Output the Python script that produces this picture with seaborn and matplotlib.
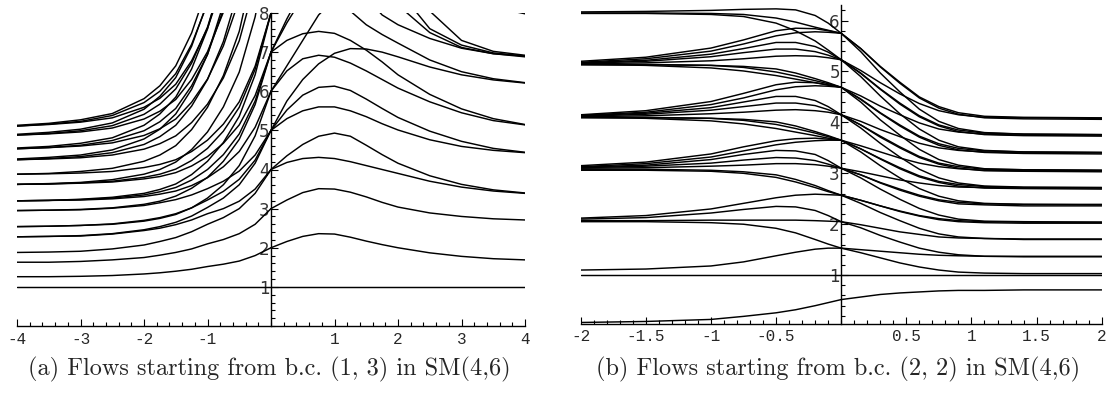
import matplotlib
matplotlib.use("Agg")
import matplotlib.pyplot as plt
import seaborn as sns
import pandas as pd
from matplotlib.ticker import MultipleLocator

# ---------------- panel (a) data ----------------
a_left_x = [-4, -3.5, -3, -2.5, -2, -1.75, -1.5, -1.25, -1, -0.75, -0.5, -0.25, 0]
a_left_curves = [
    [1.26, 1.26, 1.27, 1.29, 1.33, 1.36, 1.40, 1.45, 1.52, 1.58, 1.66, 1.80, 2.00],
    [1.63, 1.63, 1.65, 1.69, 1.75, 1.81, 1.88, 1.97, 2.10, 2.21, 2.36, 2.60, 3.00],
    [1.88, 1.89, 1.91, 1.97, 2.07, 2.16, 2.26, 2.41, 2.60, 2.77, 3.00, 3.39, 4.00],
    [2.28, 2.29, 2.30, 2.35, 2.44, 2.50, 2.59, 2.71, 2.87, 3.00, 3.19, 3.50, 4.00],
    [2.28, 2.29, 2.31, 2.36, 2.46, 2.54, 2.65, 2.81, 3.03, 3.27, 3.61, 4.16, 5.00],
    [2.54, 2.55, 2.57, 2.61, 2.70, 2.77, 2.87, 3.02, 3.22, 3.44, 3.75, 4.24, 5.00],
    [2.54, 2.55, 2.57, 2.60, 2.68, 2.75, 2.85, 3.02, 3.27, 3.61, 4.10, 4.86, 6.00],
    [2.95, 2.96, 2.97, 3.01, 3.08, 3.15, 3.23, 3.35, 3.51, 3.70, 3.96, 4.37, 5.00],
    [2.95, 2.96, 2.98, 3.02, 3.11, 3.19, 3.32, 3.52, 3.80, 4.21, 4.77, 5.66, 7.00],
    [3.20, 3.21, 3.22, 3.25, 3.31, 3.37, 3.45, 3.59, 3.79, 4.07, 4.46, 5.08, 6.00],
    [3.20, 3.21, 3.23, 3.27, 3.35, 3.43, 3.54, 3.73, 4.00, 4.38, 4.91, 5.75, 7.00],
    [3.20, 3.21, 3.24, 3.29, 3.39, 3.49, 3.63, 3.87, 4.21, 4.69, 5.36, 6.42, 8.00],
    [3.62, 3.63, 3.65, 3.68, 3.76, 3.82, 3.92, 4.09, 4.33, 4.67, 5.14, 5.89, 7.00],
    [3.62, 3.63, 3.66, 3.70, 3.80, 3.88, 4.01, 4.23, 4.54, 4.98, 5.59, 6.56, 8.00],
    [3.62, 3.64, 3.67, 3.74, 3.88, 4.00, 4.19, 4.51, 4.96, 5.60, 6.49, 7.90, 10.0],
    [3.88, 3.89, 3.91, 3.95, 4.05, 4.13, 4.25, 4.46, 4.75, 5.16, 5.73, 6.64, 8.00],
    [3.88, 3.90, 3.95, 4.03, 4.21, 4.37, 4.61, 5.02, 5.59, 6.40, 7.53, 9.32, 12.0],
    [4.25, 4.27, 4.30, 4.37, 4.52, 4.66, 4.86, 5.20, 5.67, 6.34, 7.29, 8.77, 11.0],
    [4.25, 4.28, 4.33, 4.43, 4.64, 4.84, 5.13, 5.62, 6.30, 7.27, 8.64, 10.8, 14.0],
    [4.27, 4.31, 4.37, 4.50, 4.78, 5.03, 5.42, 6.05, 6.94, 8.22, 10.0, 12.8, 17.0],
    [4.53, 4.56, 4.60, 4.68, 4.87, 5.04, 5.29, 5.72, 6.31, 7.16, 8.34, 10.2, 13.0],
    [4.53, 4.56, 4.62, 4.74, 4.99, 5.22, 5.56, 6.14, 6.94, 8.09, 9.69, 12.2, 16.0],
    [4.55, 4.59, 4.67, 4.81, 5.13, 5.42, 5.85, 6.57, 7.59, 9.03, 11.1, 14.2, 19.0],
    [4.88, 4.91, 4.96, 5.06, 5.29, 5.49, 5.79, 6.30, 7.01, 8.02, 9.43, 11.7, 15.0],
    [4.88, 4.92, 4.99, 5.12, 5.41, 5.67, 6.06, 6.72, 7.64, 8.95, 10.8, 13.7, 18.0],
    [4.90, 4.95, 5.03, 5.19, 5.54, 5.87, 6.35, 7.15, 8.28, 9.90, 12.1, 15.7, 21.0],
    [5.11, 5.15, 5.21, 5.32, 5.59, 5.82, 6.18, 6.78, 7.61, 8.80, 10.5, 13.1, 17.0],
    [5.11, 5.16, 5.23, 5.38, 5.71, 6.00, 6.45, 7.20, 8.24, 9.70, 11.8, 15.1, 20.0],
    [5.13, 5.18, 5.27, 5.43, 5.81, 6.14, 6.65, 7.49, 8.67, 10.4, 12.7, 16.4, 22.0],
]
a_right_x = [0, 0.25, 0.5, 0.75, 1.0, 1.25, 1.5, 1.75, 2.0, 2.5, 3.0, 3.5, 4.0]
a_right_curves = [
    [2.00, 2.16, 2.29, 2.36, 2.35, 2.27, 2.17, 2.08, 2.00, 1.87, 1.78, 1.72, 1.69],
    [3.00, 3.22, 3.41, 3.51, 3.50, 3.42, 3.30, 3.16, 3.04, 2.89, 2.80, 2.74, 2.71],
    [4.00, 4.18, 4.28, 4.31, 4.28, 4.20, 4.10, 4.00, 3.90, 3.70, 3.55, 3.45, 3.39],
    [4.00, 4.35, 4.64, 4.85, 4.93, 4.85, 4.62, 4.38, 4.16, 3.84, 3.62, 3.48, 3.40],
    [5.00, 5.30, 5.50, 5.60, 5.60, 5.50, 5.35, 5.17, 5.01, 4.76, 4.59, 4.49, 4.43],
    [5.00, 5.52, 5.90, 6.10, 6.13, 6.02, 5.80, 5.56, 5.33, 4.98, 4.72, 4.54, 4.44],
    [5.00, 5.75, 6.30, 6.70, 6.97, 7.09, 7.08, 7.00, 6.88, 6.62, 6.42, 6.29, 6.21],
    [6.00, 6.52, 6.83, 6.92, 6.87, 6.72, 6.52, 6.30, 6.08, 5.73, 5.45, 5.25, 5.14],
    [7.00, 7.30, 7.47, 7.53, 7.48, 7.30, 7.05, 6.75, 6.42, 5.92, 5.55, 5.30, 5.15],
    [6.00, 6.65, 7.30, 7.95, 8.35, 8.05, 7.70, 7.45, 7.23, 6.80, 6.50, 6.32, 6.22],
    [7.00, 7.75, 8.40, 8.90, 9.00, 8.80, 8.40, 7.95, 7.70, 7.35, 7.10, 6.96, 6.90],
    [7.00, 7.85, 8.60, 9.20, 9.50, 9.45, 9.20, 8.80, 8.20, 7.50, 7.12, 6.96, 6.88],
    [8.00, 8.90, 9.60, 10.0, 10.1, 9.90, 9.60, 9.20, 8.60, 7.60, 7.18, 6.98, 6.90],
    [8.00, 9.00, 9.80, 10.3, 10.5, 10.4, 10.1, 9.60, 9.00, 8.05, 7.30, 7.02, 6.92],
    [8.00, 9.50, 10.5, 11.0, 11.0, 10.8, 10.4, 10.0, 9.60, 8.90, 8.40, 8.15, 7.98],
]
a_const_x = [-4, 4]
a_const_y = [1.0, 1.0]

# ---------------- panel (b) data ----------------
b_left_x = [-2, -1.5, -1, -0.75, -0.5, -0.35, -0.2, -0.1, 0]
b_left_curves = [
    [6.17, 6.18, 6.20, 6.22, 6.23, 6.21, 6.10, 5.95, 5.75],
    [6.15, 6.15, 6.14, 6.12, 6.05, 5.97, 5.87, 5.81, 5.75],
    [6.14, 6.14, 6.12, 6.08, 5.95, 5.80, 5.60, 5.42, 5.23],
    [5.20, 5.28, 5.46, 5.62, 5.80, 5.85, 5.84, 5.80, 5.75],
    [5.18, 5.25, 5.40, 5.54, 5.70, 5.76, 5.78, 5.77, 5.75],
    [5.17, 5.22, 5.34, 5.45, 5.57, 5.57, 5.49, 5.38, 5.23],
    [5.16, 5.20, 5.29, 5.37, 5.44, 5.44, 5.39, 5.32, 5.23],
    [5.15, 5.17, 5.21, 5.25, 5.30, 5.31, 5.30, 5.27, 5.23],
    [5.14, 5.14, 5.12, 5.10, 5.05, 4.97, 4.86, 4.78, 4.69],
    [5.13, 5.13, 5.12, 5.08, 4.99, 4.91, 4.82, 4.76, 4.69],
    [5.14, 5.12, 5.07, 5.01, 4.92, 4.85, 4.78, 4.73, 4.69],
    [4.15, 4.23, 4.41, 4.57, 4.74, 4.79, 4.78, 4.74, 4.69],
    [4.14, 4.20, 4.35, 4.48, 4.64, 4.70, 4.72, 4.71, 4.69],
    [4.13, 4.18, 4.29, 4.40, 4.51, 4.51, 4.43, 4.31, 4.15],
    [4.12, 4.16, 4.24, 4.31, 4.38, 4.38, 4.33, 4.25, 4.15],
    [4.11, 4.13, 4.17, 4.20, 4.24, 4.25, 4.23, 4.20, 4.15],
    [4.10, 4.10, 4.08, 4.06, 4.01, 3.93, 3.82, 3.74, 3.65],
    [4.09, 4.09, 4.08, 4.04, 3.96, 3.88, 3.79, 3.72, 3.65],
    [4.10, 4.08, 4.03, 3.97, 3.88, 3.81, 3.74, 3.69, 3.65],
    [3.15, 3.22, 3.38, 3.52, 3.64, 3.68, 3.69, 3.67, 3.65],
    [3.13, 3.19, 3.32, 3.44, 3.56, 3.61, 3.64, 3.65, 3.65],
    [3.12, 3.16, 3.27, 3.37, 3.45, 3.44, 3.37, 3.25, 3.10],
    [3.11, 3.14, 3.20, 3.26, 3.31, 3.30, 3.25, 3.18, 3.10],
    [3.10, 3.11, 3.14, 3.16, 3.19, 3.19, 3.17, 3.14, 3.10],
    [3.08, 3.08, 3.06, 3.03, 2.97, 2.88, 2.76, 2.66, 2.57],
    [3.06, 3.06, 3.04, 3.00, 2.92, 2.83, 2.72, 2.64, 2.57],
    [2.12, 2.17, 2.30, 2.41, 2.52, 2.57, 2.59, 2.58, 2.57],
    [2.10, 2.13, 2.22, 2.29, 2.35, 2.34, 2.27, 2.17, 2.05],
    [2.07, 2.07, 2.08, 2.08, 2.08, 2.08, 2.07, 2.06, 2.05],
    [2.05, 2.05, 2.03, 2.00, 1.92, 1.83, 1.70, 1.61, 1.53],
    [1.10, 1.12, 1.18, 1.26, 1.38, 1.45, 1.51, 1.53, 1.53],
    [0.07, 0.09, 0.13, 0.19, 0.26, 0.32, 0.40, 0.46, 0.52],
]
b_right_x = [0, 0.15, 0.3, 0.45, 0.6, 0.75, 0.9, 1.1, 1.4, 2.0]
b_right_curves = [
    [5.75, 5.45, 5.10, 4.79, 4.50, 4.31, 4.19, 4.12, 4.10, 4.09],
    [5.75, 5.45, 5.09, 4.77, 4.48, 4.28, 4.16, 4.09, 4.07, 4.06],
    [5.75, 5.39, 4.97, 4.60, 4.26, 4.02, 3.88, 3.80, 3.77, 3.76],
    [5.23, 5.02, 4.78, 4.56, 4.37, 4.23, 4.15, 4.10, 4.09, 4.08],
    [5.23, 4.97, 4.66, 4.38, 4.13, 3.95, 3.85, 3.79, 3.77, 3.76],
    [5.23, 4.96, 4.65, 4.36, 4.11, 3.93, 3.82, 3.76, 3.74, 3.73],
    [5.23, 4.90, 4.52, 4.17, 3.87, 3.65, 3.52, 3.45, 3.42, 3.41],
    [4.69, 4.52, 4.32, 4.15, 3.99, 3.87, 3.81, 3.77, 3.75, 3.75],
    [4.69, 4.46, 4.19, 3.95, 3.73, 3.58, 3.49, 3.44, 3.42, 3.41],
    [4.69, 4.45, 4.18, 3.93, 3.71, 3.55, 3.46, 3.41, 3.39, 3.38],
    [4.69, 4.40, 4.05, 3.75, 3.47, 3.27, 3.16, 3.09, 3.07, 3.06],
    [4.15, 4.02, 3.86, 3.72, 3.59, 3.50, 3.45, 3.42, 3.40, 3.40],
    [4.15, 3.95, 3.73, 3.52, 3.33, 3.20, 3.13, 3.08, 3.07, 3.06],
    [4.15, 3.95, 3.71, 3.50, 3.31, 3.18, 3.10, 3.05, 3.04, 3.03],
    [4.15, 3.89, 3.59, 3.32, 3.08, 2.91, 2.81, 2.75, 2.73, 2.72],
    [3.65, 3.54, 3.42, 3.30, 3.20, 3.13, 3.09, 3.06, 3.05, 3.05],
    [3.65, 3.48, 3.29, 3.11, 2.95, 2.84, 2.78, 2.74, 2.72, 2.72],
    [3.65, 3.48, 3.28, 3.09, 2.93, 2.82, 2.75, 2.71, 2.70, 2.69],
    [3.65, 3.42, 3.15, 2.91, 2.70, 2.55, 2.46, 2.41, 2.39, 2.38],
    [3.10, 3.03, 2.95, 2.87, 2.81, 2.76, 2.73, 2.72, 2.71, 2.71],
    [3.10, 2.97, 2.82, 2.69, 2.57, 2.48, 2.43, 2.40, 2.39, 2.39],
    [3.10, 2.97, 2.81, 2.67, 2.55, 2.46, 2.40, 2.38, 2.36, 2.36],
    [3.10, 2.91, 2.69, 2.49, 2.31, 2.18, 2.10, 2.06, 2.05, 2.04],
    [2.57, 2.47, 2.36, 2.26, 2.17, 2.11, 2.07, 2.05, 2.04, 2.04],
    [2.57, 2.47, 2.36, 2.25, 2.16, 2.09, 2.05, 2.03, 2.02, 2.02],
    [2.57, 2.41, 2.23, 2.07, 1.92, 1.81, 1.75, 1.72, 1.70, 1.70],
    [2.05, 1.99, 1.92, 1.85, 1.80, 1.75, 1.73, 1.72, 1.71, 1.71],
    [2.05, 1.93, 1.78, 1.65, 1.53, 1.45, 1.40, 1.37, 1.36, 1.36],
    [1.53, 1.50, 1.47, 1.44, 1.41, 1.39, 1.38, 1.37, 1.37, 1.37],
    [1.53, 1.44, 1.34, 1.24, 1.16, 1.10, 1.06, 1.04, 1.03, 1.03],
    [0.52, 0.57, 0.62, 0.65, 0.67, 0.69, 0.70, 0.70, 0.71, 0.71],
]
b_const_x = [-2, 2]
b_const_y = [1.0, 1.0]

# ---------------- ticks / captions ----------------
a_xticks = [-4, -3, -2, -1, 1, 2, 3, 4]
a_xticklabels = ["-4", "-3", "-2", "-1", "1", "2", "3", "4"]
a_yticks = [1, 2, 3, 4, 5, 6, 7, 8]
b_xticks = [-2, -1.5, -1, -0.5, 0.5, 1, 1.5, 2]
b_xticklabels = ["-2", "-1.5", "-1", "-0.5", "0.5", "1", "1.5", "2"]
b_yticks = [1, 2, 3, 4, 5, 6]
caption_a = "(a) Flows starting from b.c. (1, 3) in SM(4,6)"
caption_b = "(b) Flows starting from b.c. (2, 2) in SM(4,6)"


def to_long(groups):
    rows = []
    for tag, xs, curves in groups:
        for i, ys in enumerate(curves):
            for x, y in zip(xs, ys):
                rows.append((f"{tag}{i}", x, y))
    return pd.DataFrame(rows, columns=["curve", "x", "y"])


sns.set_style("white")
fig = plt.figure(figsize=(11.15, 4.05), dpi=100)
ax_a = fig.add_axes([17 / 1115, (405 - 326) / 405, 508 / 1115, 313 / 405])
ax_b = fig.add_axes([580.7 / 1115, (405 - 323.5) / 405, 521 / 1115, 318.2 / 405])

df_a = to_long([("L", a_left_x, a_left_curves), ("R", a_right_x, a_right_curves),
                ("C", a_const_x, [a_const_y])])
df_b = to_long([("L", b_left_x, b_left_curves), ("R", b_right_x, b_right_curves),
                ("C", b_const_x, [b_const_y])])

for ax, df in ((ax_a, df_a), (ax_b, df_b)):
    sns.lineplot(data=df, x="x", y="y", units="curve", estimator=None,
                 color="black", linewidth=1.05, ax=ax, legend=False, sort=False)


def style(ax, xlim, ylim, xticks, xlabels, yticks, xminor, yminor):
    ax.set_xlim(*xlim)
    ax.set_ylim(*ylim)
    ax.set_facecolor("white")
    ax.grid(False)
    ax.set_axisbelow(True)
    for s in ("top", "right"):
        ax.spines[s].set_visible(False)
    ax.spines["left"].set_position(("data", 0))
    for s in ("left", "bottom"):
        ax.spines[s].set_color("black")
        ax.spines[s].set_linewidth(1.0)
    ax.set_xticks(xticks)
    ax.set_xticklabels(xlabels, fontfamily="Liberation Mono", fontsize=11.5)
    ax.set_yticks(yticks)
    ax.set_yticklabels([str(t) for t in yticks], fontfamily="DejaVu Sans",
                       fontsize=12, color="#333333")
    ax.xaxis.set_minor_locator(MultipleLocator(xminor))
    ax.yaxis.set_minor_locator(MultipleLocator(yminor))
    ax.tick_params(which="both", direction="in", color="black", width=0.8,
                   bottom=True, left=True, top=False, right=False)
    ax.tick_params(which="major", length=5)
    ax.tick_params(which="minor", length=3)
    ax.tick_params(axis="x", pad=4)
    ax.tick_params(axis="y", pad=1)
    ax.set_xlabel("")
    ax.set_ylabel("")


style(ax_a, (-4, 4), (0, 8), a_xticks, a_xticklabels, a_yticks, 0.2, 0.2)
style(ax_b, (-2, 2), (0.05, 6.3), b_xticks, b_xticklabels, b_yticks, 0.1, 0.2)

fig.text(269 / 1115, 1 - 369 / 405, caption_a, ha="center", va="center",
         fontfamily="cmr10", fontsize=17.5)
fig.text(838 / 1115, 1 - 369 / 405, caption_b, ha="center", va="center",
         fontfamily="cmr10", fontsize=17.5)

fig.savefig("out.png", dpi=100)
